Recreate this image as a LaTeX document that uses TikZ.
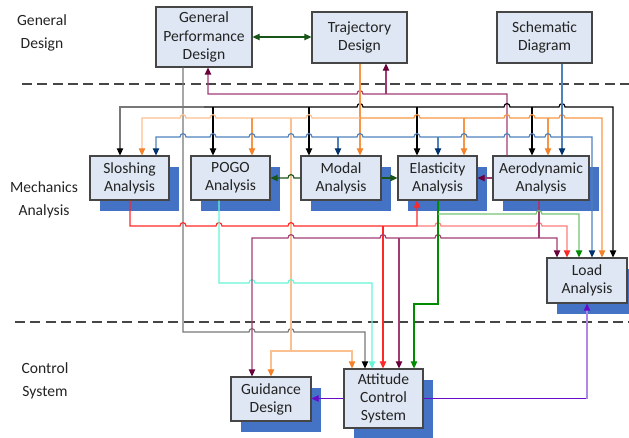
\documentclass[tikz,border=0pt]{standalone}
\usepackage{fontspec}
\setmainfont{Carlito}
\usetikzlibrary{arrows.meta,shadows}

\definecolor{boxfill}{RGB}{222,231,243}
\definecolor{boxline}{RGB}{70,70,70}
\definecolor{shadowblue}{RGB}{68,114,196}
\definecolor{txt}{RGB}{35,35,35}
\definecolor{dkgreen}{RGB}{25,85,25}
\definecolor{plumline}{RGB}{160,60,115}
\definecolor{plumtip}{RGB}{105,0,60}
\definecolor{orangeline}{RGB}{247,150,70}
\definecolor{lightorange}{RGB}{250,192,143}
\definecolor{orangetip}{RGB}{245,130,40}
\definecolor{steelblue}{RGB}{79,129,189}
\definecolor{navyblue}{RGB}{0,50,110}
\definecolor{redline}{RGB}{255,40,40}
\definecolor{lightred}{RGB}{255,125,125}
\definecolor{aqua}{RGB}{100,245,215}
\definecolor{greenline}{RGB}{0,140,0}
\definecolor{lightgreen}{RGB}{115,195,115}
\definecolor{violetline}{RGB}{102,10,204}
\definecolor{lightviolet}{RGB}{175,135,230}
\definecolor{grayline}{RGB}{120,120,120}

% small hop of a horizontal line over a vertical one at (x,y)
\newcommand{\hopr}[2]{-- ({#1-3},#2) .. controls ({#1-3},{#2-4.5}) and ({#1+3},{#2-4.5}) .. ({#1+3},#2)}

\tikzset{
    ktip/.tip={Triangle[width=5.5pt,length=6pt,color=black]},
    otip/.tip={Triangle[width=5.5pt,length=6pt,color=orangetip]},
    ntip/.tip={Triangle[width=5.5pt,length=6pt,color=navyblue]},
    ptip/.tip={Triangle[width=5.5pt,length=6pt,color=plumtip]},
    rtip/.tip={Triangle[width=5.5pt,length=6pt,color=redline]},
    ctip/.tip={Triangle[width=5.5pt,length=6pt,color=aqua]},
    gtip/.tip={Triangle[width=5.5pt,length=6pt,color=greenline]},
    dtip/.tip={Triangle[width=5.5pt,length=6pt,color=dkgreen]},
    vtip/.tip={Triangle[width=5.5pt,length=6pt,color=violetline]}
}

\begin{document}
\begin{tikzpicture}[
    x=0.3mm, y=-0.3mm,
    line width=1pt,
    every node/.style={font=\fontsize{13.3}{15.5}\selectfont, text=txt},
    box/.style={draw=boxline, line width=1pt, fill=boxfill, align=center, inner sep=1pt},
    shbox/.style={box, drop shadow={fill=shadowblue, opacity=1, shadow xshift=3mm, shadow yshift=-3.3mm}},
    side/.style={align=center, font=\fontsize{13.3}{19.5}\selectfont},
    sep/.style={draw=boxline, line width=1.5pt, dash pattern=on 3mm off 1.6mm}
]
\useasboundingbox (0,0) rectangle (629,437);

% layer separators
\draw[sep] (22,84) -- (629,84);
\draw[sep] (15,322) -- (629,322);

% layer labels
\node[side] (lblgen) at (42,33) {General\\Design};
\node[side] (lblmech) at (44,199.5) {Mechanics\\Analysis};
\node[side] (lblctrl) at (45,381) {Control\\System};

% general design
\node[box, minimum width=28.8mm, minimum height=18mm] (gpd) at (204,37) {General\\Performance\\Design};
\node[box, minimum width=28.5mm, minimum height=15.3mm] (traj) at (359.5,37.5) {Trajectory\\Design};
\node[box, minimum width=28.5mm, minimum height=15.3mm] (schem) at (544.5,37.5) {Schematic\\Diagram};

% mechanics analysis
\node[shbox, minimum width=23.7mm, minimum height=13.2mm] (slosh) at (129.5,178) {Sloshing\\Analysis};
\node[shbox, minimum width=23.7mm, minimum height=13.2mm] (pogo) at (230.5,178) {POGO\\Analysis};
\node[shbox, minimum width=24mm, minimum height=13.2mm] (modal) at (341,178) {Modal\\Analysis};
\node[shbox, minimum width=23.7mm, minimum height=13.2mm] (elast) at (437.5,178) {Elasticity\\Analysis};
\node[shbox, minimum width=28.8mm, minimum height=13.2mm] (aero) at (541,178) {Aerodynamic\\Analysis};
\node[shbox, minimum width=24mm, minimum height=13.5mm] (load) at (587,280.5) {Load\\Analysis};

% control system
\node[shbox, minimum width=24mm, minimum height=13.2mm] (guid) at (271,399) {Guidance\\Design};
\node[shbox, minimum width=23.7mm, minimum height=17.7mm] (att) at (383.5,398.5) {Attitude\\Control\\System};

% general design links
\draw[dkgreen, dtip-dtip] (gpd.east) -- (gpd.east -| traj.west);
\draw[plumline, ptip-] (208,0 |- gpd.south) -- (208,94) \hopr{360}{94} -- (507,94) -- (507,0 |- aero.north);
\draw[plumline, -ptip] (386,94) -- (386,0 |- traj.south);

% general performance bus
\draw[grayline, -ktip] (204,107) -- (120,107) -- (120,0 |- slosh.north);
\draw[black, -ktip] (204,107) \hopr{360}{107} \hopr{507}{107} \hopr{562}{107} -- (613,107) -- (613,0 |- load.north);
\foreach \x/\n in {213/pogo, 309/modal, 417/elast, 532/aero}
    \draw[black, -ktip] (\x,107) -- (\x,0 |- \n.north);
\draw[grayline, -ktip] (183,0 |- gpd.south) -- (183,332) \hopr{252}{332} \hopr{291}{332} -- (365,332) -- (365,0 |- att.north);

% trajectory bus
\draw[orangeline, -otip] (360,0 |- traj.south) -- (360,0 |- modal.north);
\draw[lightorange, otip-] (142,0 |- slosh.north) -- (142,118) \hopr{183}{118} \hopr{213}{118} \hopr{309}{118} -- (360,118);
\draw[orangeline, -otip] (360,118) \hopr{417}{118} \hopr{507}{118} \hopr{532}{118} \hopr{562}{118} -- (602,118) -- (602,0 |- load.north);
\foreach \x/\n in {252/pogo, 464/elast, 548/aero}
    \draw[orangeline, -otip] (\x,118) -- (\x,0 |- \n.north);
\draw[lightorange] (291,118) -- (291,351);
\draw[lightorange, otip-otip] (271,0 |- guid.north) -- (271,351) -- (352,351) -- (352,0 |- att.north);

% schematic bus
\draw[steelblue, -ntip] (562,0 |- schem.south) -- (562,0 |- aero.north);
\draw[steelblue, ntip-ntip] (156,0 |- slosh.north) -- (156,137) \hopr{183}{137} \hopr{213}{137} \hopr{252}{137} \hopr{291}{137} \hopr{309}{137} -- (338,137) \hopr{360}{137} \hopr{417}{137} -- (438,137) \hopr{464}{137} \hopr{507}{137} \hopr{532}{137} \hopr{548}{137} -- (592,137) -- (592,0 |- load.north);
\foreach \x/\n in {338/modal, 438/elast}
    \draw[steelblue, -ntip] (\x,137) -- (\x,0 |- \n.north);

% links inside mechanics analysis
\draw[dkgreen, dtip-] (pogo.east) \hopr{291}{178} -- (modal.west);
\draw[dkgreen, -dtip] (modal.east) -- (elast.west);
\draw[plumline, -ptip] (aero.west) -- (elast.east);

% sloshing output
\draw[redline, -rtip] (130,0 |- slosh.south) -- (130,226) \hopr{183}{226} \hopr{219}{226} \hopr{291}{226} -- (417,226) -- (417,0 |- elast.south);
\draw[lightred, -rtip] (417,226) \hopr{438}{226} \hopr{539}{226} -- (567,226) -- (567,0 |- load.north);
\draw[redline, -rtip] (383,226) -- (383,0 |- att.north);

% pogo output
\draw[aqua, -ctip] (219,0 |- pogo.south) -- (219,283) \hopr{252}{283} \hopr{291}{283} -- (372,283) -- (372,0 |- att.north);

% aerodynamic output
\draw[plumline] (539,0 |- aero.south) -- (539,238);
\draw[plumline, ptip-ptip] (252,0 |- guid.north) -- (252,238) \hopr{291}{238} \hopr{383}{238} \hopr{438}{238} -- (557,238) -- (557,0 |- load.north);
\draw[plumline, -ptip] (399,238) -- (399,0 |- att.north);

% elasticity output
\draw[greenline, -gtip] (438,0 |- elast.south) -- (438,304) -- (414,304) -- (414,0 |- att.north);
\draw[lightgreen, -gtip] (438,214) \hopr{539}{214} -- (579,214) -- (579,0 |- load.north);

% attitude control output
\draw[violetline, -vtip] (att.west) -- (att.west -| guid.east);
\draw[violetline] (att.east) -- (att.east -| load.south);
\draw[lightviolet, -vtip] (att.east -| load.south) -- (load.south);

\end{tikzpicture}
\end{document}
